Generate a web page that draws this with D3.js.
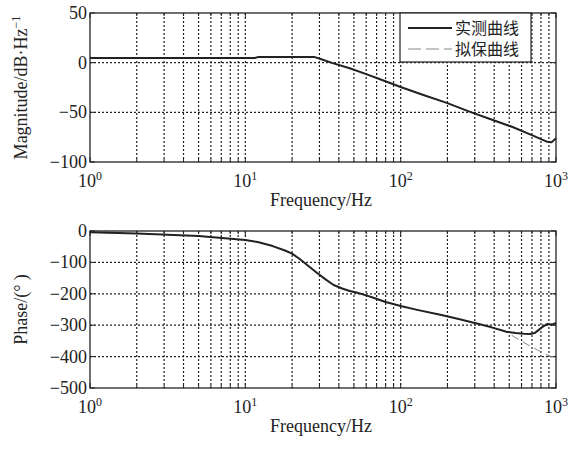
<!DOCTYPE html>
<html>
<head>
<meta charset="utf-8">
<script src="https://cdn.jsdelivr.net/npm/d3@7"></script>
<style>
  body { margin: 0; background: #fff; }
  text { font-family: "Liberation Serif", "Noto Sans CJK SC", serif; fill: #222; }
  .grid line { stroke: #222; stroke-width: 1.2; stroke-dasharray: 2,2; }
</style>
</head>
<body>
<div id="chart"></div>
<script>
// magnitude curve
const freqMag = [1, 5, 11.5, 12.2, 20, 28, 30.5, 36.5, 47, 60, 73, 100, 140, 198, 280, 380, 530, 700, 800, 875, 940, 1000];
const magMeasured = [4.7, 4.7, 4.7, 5.8, 5.8, 5.6, 3.7, -0.5, -5.6, -11.5, -16.5, -24.5, -32.5, -40.5, -49.5, -57, -65, -73, -77, -79.5, -80, -76];
const magFit = [4.7, 4.7, 4.7, 5.8, 5.8, 5.6, 3.7, -0.5, -5.6, -11.5, -16.5, -24.5, -32.5, -40.5, -49.5, -57, -65, -73, -77, -79.5, -81, -82];

// phase curve
const freqPhase = [1, 2, 5, 10, 12, 15, 18, 20, 22.5, 25, 29, 33, 37, 42, 47, 52, 60, 66, 80, 100, 130, 180, 240, 300, 380, 480, 550, 620, 680, 730, 760, 820, 880, 940, 1000];
const phaseMeasured = [-4, -8, -16, -29, -35, -48, -62, -72, -90, -108, -134, -155, -172, -183, -191, -196, -205, -212, -226, -239, -252, -267, -281, -293, -306, -321, -325, -327, -328, -325, -318, -305, -296, -298, -293];
const phaseFit = [-4, -8, -16, -29, -35, -48, -62, -72, -90, -108, -134, -155, -172, -183, -191, -196, -205, -212, -226, -239, -252, -267, -281, -293, -306, -321, -340, -355, -366, -374, -379, -388, -395, -400, -405];

const xTicks = [1, 10, 100, 1000];
const magTicks = [50, 0, -50, -100];
const phaseTicks = [0, -100, -200, -300, -400, -500];
const legendLabels = ["实测曲线", "拟保曲线"];

const W = 578, H = 449;
const left = 90, right = 556;

const svg = d3.select("#chart").append("svg")
  .attr("width", W).attr("height", H);

// minor grid positions for log axis
const minorX = [];
for (let d = 1; d <= 100; d *= 10) {
  for (let k = 2; k <= 10; k++) minorX.push(d * k);
}

function drawPanel(top, bottom, yDomain, yTicks, yTitle, series) {
  const x = d3.scaleLog().domain([1, 1000]).range([left, right]);
  const y = d3.scaleLinear().domain(yDomain).range([bottom, top]);

  // grid
  const g = svg.append("g").attr("class", "grid");
  g.selectAll(".gx").data(minorX.filter(v => v < 1000)).enter().append("line")
    .attr("x1", d => x(d)).attr("x2", d => x(d))
    .attr("y1", top).attr("y2", bottom);
  g.selectAll(".gy").data(yTicks.filter(v => v !== yDomain[0] && v !== yDomain[1])).enter().append("line")
    .attr("x1", left).attr("x2", right)
    .attr("y1", d => y(d)).attr("y2", d => y(d));

  // ticks inside, both sides
  const tk = svg.append("g").attr("stroke", "#222").attr("stroke-width", 1);
  minorX.concat([1]).forEach(v => {
    const len = xTicks.includes(v) ? 5 : 3;
    tk.append("line").attr("x1", x(v)).attr("x2", x(v)).attr("y1", bottom).attr("y2", bottom - len);
    tk.append("line").attr("x1", x(v)).attr("x2", x(v)).attr("y1", top).attr("y2", top + len);
  });
  yTicks.forEach(v => {
    tk.append("line").attr("x1", left).attr("x2", left + 5).attr("y1", y(v)).attr("y2", y(v));
    tk.append("line").attr("x1", right).attr("x2", right - 5).attr("y1", y(v)).attr("y2", y(v));
  });

  // curves
  const line = d3.line().x(d => x(d[0])).y(d => y(d[1]));
  series.forEach(s => {
    svg.append("path")
      .datum(s.f.map((f, i) => [f, s.v[i]]))
      .attr("d", line)
      .attr("fill", "none")
      .attr("stroke", s.color)
      .attr("stroke-width", s.width)
      .attr("stroke-dasharray", s.dash || null)
      .attr("stroke-linejoin", "round");
  });

  // box
  svg.append("rect")
    .attr("x", left).attr("y", top)
    .attr("width", right - left).attr("height", bottom - top)
    .attr("fill", "none").attr("stroke", "#222").attr("stroke-width", 1.3);

  // y tick labels
  svg.selectAll(null).data(yTicks).enter().append("text")
    .attr("x", left - 3).attr("y", d => y(d) + 6)
    .attr("text-anchor", "end")
    .style("font-size", "18px")
    .text(d => d < 0 ? "\u2212" + Math.abs(d) : d);

  // x tick labels 10^n
  xTicks.forEach(v => {
    const t = svg.append("text")
      .attr("x", x(v)).attr("y", bottom + 25)
      .attr("text-anchor", "middle")
      .style("font-size", "18px");
    t.append("tspan").text("10");
    t.append("tspan").attr("dy", -7).style("font-size", "12px").text(Math.round(Math.log10(v)));
  });

  // x title
  svg.append("text")
    .attr("x", (left + right) / 2 - 2).attr("y", bottom + 44)
    .attr("text-anchor", "middle")
    .style("font-size", "18px")
    .text("Frequency/Hz");

  // y title
  const yt = svg.append("text")
    .attr("transform", `translate(27,${(top + bottom) / 2}) rotate(-90)`)
    .attr("text-anchor", "middle")
    .style("font-size", "18px");
  yTitle(yt);

  return { x, y };
}

drawPanel(13, 162, [-100, 50], magTicks, t => {
  t.append("tspan").text("Magnitude/dB\u00b7Hz");
  t.append("tspan").attr("dy", -7).style("font-size", "12px").text("\u22121");
}, [
  { f: freqMag, v: magFit, color: "#888", width: 1, dash: "8,5" },
  { f: freqMag, v: magMeasured, color: "#222", width: 2 }
]);

drawPanel(231, 388, [-500, 0], phaseTicks, t => {
  t.text("Phase/(\u00b0 )");
}, [
  { f: freqPhase, v: phaseFit, color: "#888", width: 1, dash: "8,5" },
  { f: freqPhase, v: phaseMeasured, color: "#222", width: 2 }
]);

// legend
const lg = svg.append("g");
lg.append("rect").attr("x", 400).attr("y", 13).attr("width", 131).attr("height", 49)
  .attr("fill", "#fff").attr("stroke", "#222").attr("stroke-width", 1.2);
const legendStyles = [{ color: "#222", width: 2, dash: null }, { color: "#888", width: 1, dash: "13,5" }];
legendLabels.forEach((lab, i) => {
  const ly = 28 + i * 21;
  lg.append("line").attr("x1", 408).attr("x2", 452).attr("y1", ly).attr("y2", ly)
    .attr("stroke", legendStyles[i].color).attr("stroke-width", legendStyles[i].width)
    .attr("stroke-dasharray", legendStyles[i].dash);
  lg.append("text").attr("x", 455).attr("y", ly + 6)
    .style("font-size", "16px")
    .text(lab);
});
</script>
</body>
</html>
